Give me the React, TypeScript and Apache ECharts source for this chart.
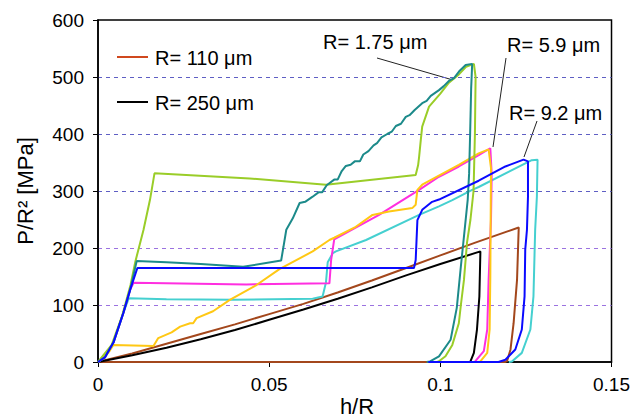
import React, { useEffect, useRef } from "react";
import * as echarts from "echarts";

const xTickLabels = ["0", "0.05", "0.1", "0.15"];
const yTickLabels = ["0", "100", "200", "300", "400", "500", "600"];

const legendNames = ["R= 110 μm", "R= 250 μm"];
const annotationNames = ["R= 1.75 μm", "R= 5.9 μm", "R= 9.2 μm"];

// R = 110 um (brown)
const brownData = [
  [0, 0], [0.01, 15], [0.02, 32], [0.03, 49], [0.04, 66], [0.05, 84], [0.06, 102],
  [0.07, 122], [0.08, 143], [0.09, 165], [0.1, 187], [0.11, 209], [0.1229, 236],
  [0.1224, 144], [0.1214, 68], [0.1205, 22], [0.1195, 2], [0.119, 0], [0, 0],
];
// R = 250 um (black)
const blackData = [
  [0, 0], [0.01, 12], [0.02, 25], [0.03, 40], [0.04, 56], [0.05, 74], [0.06, 92],
  [0.07, 111], [0.08, 131], [0.09, 152], [0.1, 172], [0.1117, 194],
  [0.1114, 115], [0.1107, 57], [0.1098, 16], [0.1088, 1], [0.1085, 0],
];
// cyan
const cyanData = [
  [0, 0], [0.002, 8], [0.0045, 34], [0.0074, 86], [0.009, 112], [0.02, 110],
  [0.0395, 109], [0.0627, 111], [0.0656, 115], [0.0666, 140], [0.0671, 175],
  [0.0686, 191], [0.0695, 194], [0.0783, 214], [0.0938, 258], [0.0996, 273],
  [0.1035, 284], [0.1093, 302], [0.1112, 307], [0.1267, 354], [0.1284, 355],
  [0.1282, 290], [0.1277, 232], [0.1272, 115], [0.1263, 57], [0.1238, 16],
  [0.1209, 1], [0.12, 0],
];
// magenta (R = 5.9 um)
const magentaData = [
  [0, 0], [0.002, 8], [0.0045, 34], [0.0074, 86], [0.0094, 127], [0.0104, 139],
  [0.0433, 136], [0.0676, 138], [0.0681, 179], [0.069, 215], [0.0821, 258],
  [0.0938, 302], [0.0996, 325], [0.1054, 343], [0.1112, 363], [0.1146, 375],
  [0.115, 330], [0.1148, 250], [0.1141, 144], [0.1137, 57], [0.1127, 19],
  [0.1103, 2], [0.11, 0],
];
// yellow
const yellowData = [
  [0, 0], [0.003, 16], [0.0045, 30], [0.0162, 28], [0.0176, 42], [0.0215, 52],
  [0.024, 62], [0.0269, 68], [0.0278, 68], [0.0288, 77], [0.0336, 89],
  [0.0385, 109], [0.0463, 135], [0.053, 163], [0.0627, 194], [0.0676, 214],
  [0.069, 218], [0.075, 236], [0.0802, 258], [0.085, 264], [0.0918, 270],
  [0.0928, 276], [0.0933, 302], [0.0947, 311], [0.1054, 346], [0.1112, 366],
  [0.1141, 373], [0.1148, 340], [0.1147, 250], [0.1146, 150], [0.1144, 57],
  [0.1137, 16], [0.1117, 1], [0.111, 0],
];
// yellow-green
const greenData = [
  [0, 0], [0.004, 30], [0.007, 80], [0.0095, 135], [0.0109, 176], [0.0133, 232],
  [0.0152, 285], [0.0165, 331], [0.0443, 322], [0.0666, 311], [0.0928, 328],
  [0.0935, 345], [0.0938, 360], [0.0943, 390], [0.0947, 413], [0.0967, 448],
  [0.1, 471], [0.1025, 490], [0.1055, 505], [0.1075, 518], [0.1098, 523],
  [0.1103, 500], [0.1101, 400], [0.1097, 300], [0.1088, 250], [0.1078, 210],
  [0.1069, 144], [0.106, 100], [0.1054, 68], [0.1035, 30], [0.1015, 10],
  [0.0995, 1], [0.099, 0],
];
// teal (R = 1.75 um)
const tealData = [
  [0, 0], [0.002, 8], [0.0045, 34], [0.0074, 86], [0.0094, 127], [0.0113, 177],
  [0.02, 175], [0.03, 172], [0.0424, 167], [0.0535, 178], [0.0542, 203],
  [0.055, 232], [0.0569, 252], [0.0589, 279], [0.0605, 281], [0.0627, 290],
  [0.0645, 298], [0.0655, 298], [0.0668, 310], [0.069, 320], [0.07, 320],
  [0.0712, 335], [0.0724, 344], [0.0738, 346], [0.075, 352], [0.0765, 352],
  [0.0775, 364], [0.079, 370], [0.0805, 380], [0.0815, 384], [0.0828, 394],
  [0.0845, 400], [0.0858, 404], [0.087, 414], [0.0885, 418], [0.0899, 430],
  [0.091, 433], [0.0925, 442], [0.0947, 454], [0.096, 458], [0.0972, 467],
  [0.0996, 477], [0.101, 484], [0.1025, 493], [0.104, 498], [0.1055, 510],
  [0.1074, 521], [0.1093, 523], [0.109, 480], [0.1087, 400], [0.1084, 330],
  [0.108, 285], [0.107, 226], [0.106, 168], [0.1048, 95], [0.103, 39],
  [0.0996, 10], [0.097, 1], [0.096, 0],
];
// blue (R = 9.2 um)
const blueData = [
  [0, 0], [0.002, 8], [0.0045, 34], [0.0074, 86], [0.0094, 127], [0.0115, 165],
  [0.0923, 165], [0.0928, 179], [0.0933, 249], [0.0947, 267], [0.0976, 281],
  [0.0996, 285], [0.1112, 318], [0.119, 343], [0.1243, 355], [0.1256, 352],
  [0.1256, 290], [0.1253, 232], [0.1248, 197], [0.1246, 115], [0.1238, 57],
  [0.1219, 22], [0.119, 4], [0.117, 0], [0.0965, 0],
];

const seriesList = [
  { name: "brown", data: brownData, color: "#a3471c" },
  { name: "black", data: blackData, color: "#000000" },
  { name: "cyan", data: cyanData, color: "#45d0d0" },
  { name: "magenta", data: magentaData, color: "#ff2ee0" },
  { name: "yellow", data: yellowData, color: "#ffc814" },
  { name: "green", data: greenData, color: "#9acd28" },
  { name: "teal", data: tealData, color: "#1c8a8a" },
  { name: "blue", data: blueData, color: "#0a0aff" },
];

const FONT = "'Liberation Sans', Arial, sans-serif";

export default function App() {
  const ref = useRef<HTMLDivElement>(null);
  useEffect(() => {
    if (!ref.current) return;
    const chart = echarts.init(ref.current, null, { renderer: "svg" });
    chart.setOption({
      animation: false,
      backgroundColor: "#ffffff",
      grid: {
        left: 98,
        top: 20,
        right: 20,
        bottom: 57,
        show: true,
        borderColor: "#000",
        borderWidth: 1.5,
        containLabel: false,
      },
      xAxis: {
        type: "value",
        min: 0,
        max: 0.15,
        interval: 0.05,
        axisLine: { show: true, lineStyle: { color: "#000", width: 1.5 } },
        axisTick: { show: true, inside: false, length: 5, lineStyle: { color: "#000" } },
        splitLine: { show: false },
        axisLabel: {
          color: "#000",
          fontSize: 19,
          fontFamily: FONT,
          margin: 13,
          formatter: (v: number) => xTickLabels[Math.round(v / 0.05)] ?? "",
        },
      },
      yAxis: {
        type: "value",
        min: 0,
        max: 600,
        interval: 100,
        axisLine: { show: true, lineStyle: { color: "#000", width: 1.5 } },
        axisTick: { show: true, inside: false, length: 5, lineStyle: { color: "#000" } },
        splitLine: {
          show: true,
          showMinLine: false,
          showMaxLine: false,
          lineStyle: {
            color: ["#9b72e0", "#9b72e0", "#5f5fc4", "#5f5fc4", "#5f5fc4"],
            type: [4, 4],
            width: 1.2,
          },
        },
        axisLabel: {
          color: "#000",
          fontSize: 19,
          fontFamily: FONT,
          margin: 14,
          formatter: (v: number) => yTickLabels[Math.round(v / 100)] ?? "",
        },
      },
      series: seriesList.map((s) => ({
        name: s.name,
        type: "line",
        data: s.data,
        showSymbol: false,
        symbol: "none",
        smooth: false,
        lineStyle: { color: s.color, width: 2 },
        itemStyle: { color: s.color },
        emphasis: { disabled: true },
      })),
      graphic: [
        // legend
        { type: "line", shape: { x1: 117, y1: 57, x2: 148, y2: 57 }, style: { stroke: "#d0481e", lineWidth: 2 } },
        { type: "text", x: 155, y: 58, style: { text: legendNames[0], fontSize: 20, fontFamily: FONT, fill: "#000", verticalAlign: "middle", align: "left" } },
        { type: "line", shape: { x1: 117, y1: 102, x2: 148, y2: 102 }, style: { stroke: "#000", lineWidth: 2 } },
        { type: "text", x: 155, y: 103, style: { text: legendNames[1], fontSize: 20, fontFamily: FONT, fill: "#000", verticalAlign: "middle", align: "left" } },
        // annotations
        { type: "text", x: 323, y: 42, style: { text: annotationNames[0], fontSize: 20, fontFamily: FONT, fill: "#000", verticalAlign: "middle", align: "left" } },
        { type: "line", shape: { x1: 377, y1: 58, x2: 453, y2: 80 }, style: { stroke: "#222", lineWidth: 1 } },
        { type: "text", x: 507, y: 45, style: { text: annotationNames[1], fontSize: 20, fontFamily: FONT, fill: "#000", verticalAlign: "middle", align: "left" } },
        { type: "line", shape: { x1: 506, y1: 58, x2: 493, y2: 147 }, style: { stroke: "#222", lineWidth: 1 } },
        { type: "text", x: 509, y: 113, style: { text: annotationNames[2], fontSize: 20, fontFamily: FONT, fill: "#000", verticalAlign: "middle", align: "left" } },
        { type: "line", shape: { x1: 537, y1: 121, x2: 524, y2: 157 }, style: { stroke: "#222", lineWidth: 1 } },
        // axis titles
        { type: "text", x: 357, y: 406, style: { text: "h/R", fontSize: 22, fontFamily: FONT, fill: "#000", verticalAlign: "middle", align: "center" } },
        { type: "text", x: 25, y: 191, rotation: Math.PI / 2, style: { text: "P/R² [MPa]", fontSize: 22, fontFamily: FONT, fill: "#000", verticalAlign: "middle", align: "center" } },
      ],
    });
    return () => chart.dispose();
  }, []);
  return <div ref={ref} style={{ width: 633, height: 419, position: "absolute", left: 0, top: 0 }} />;
}
